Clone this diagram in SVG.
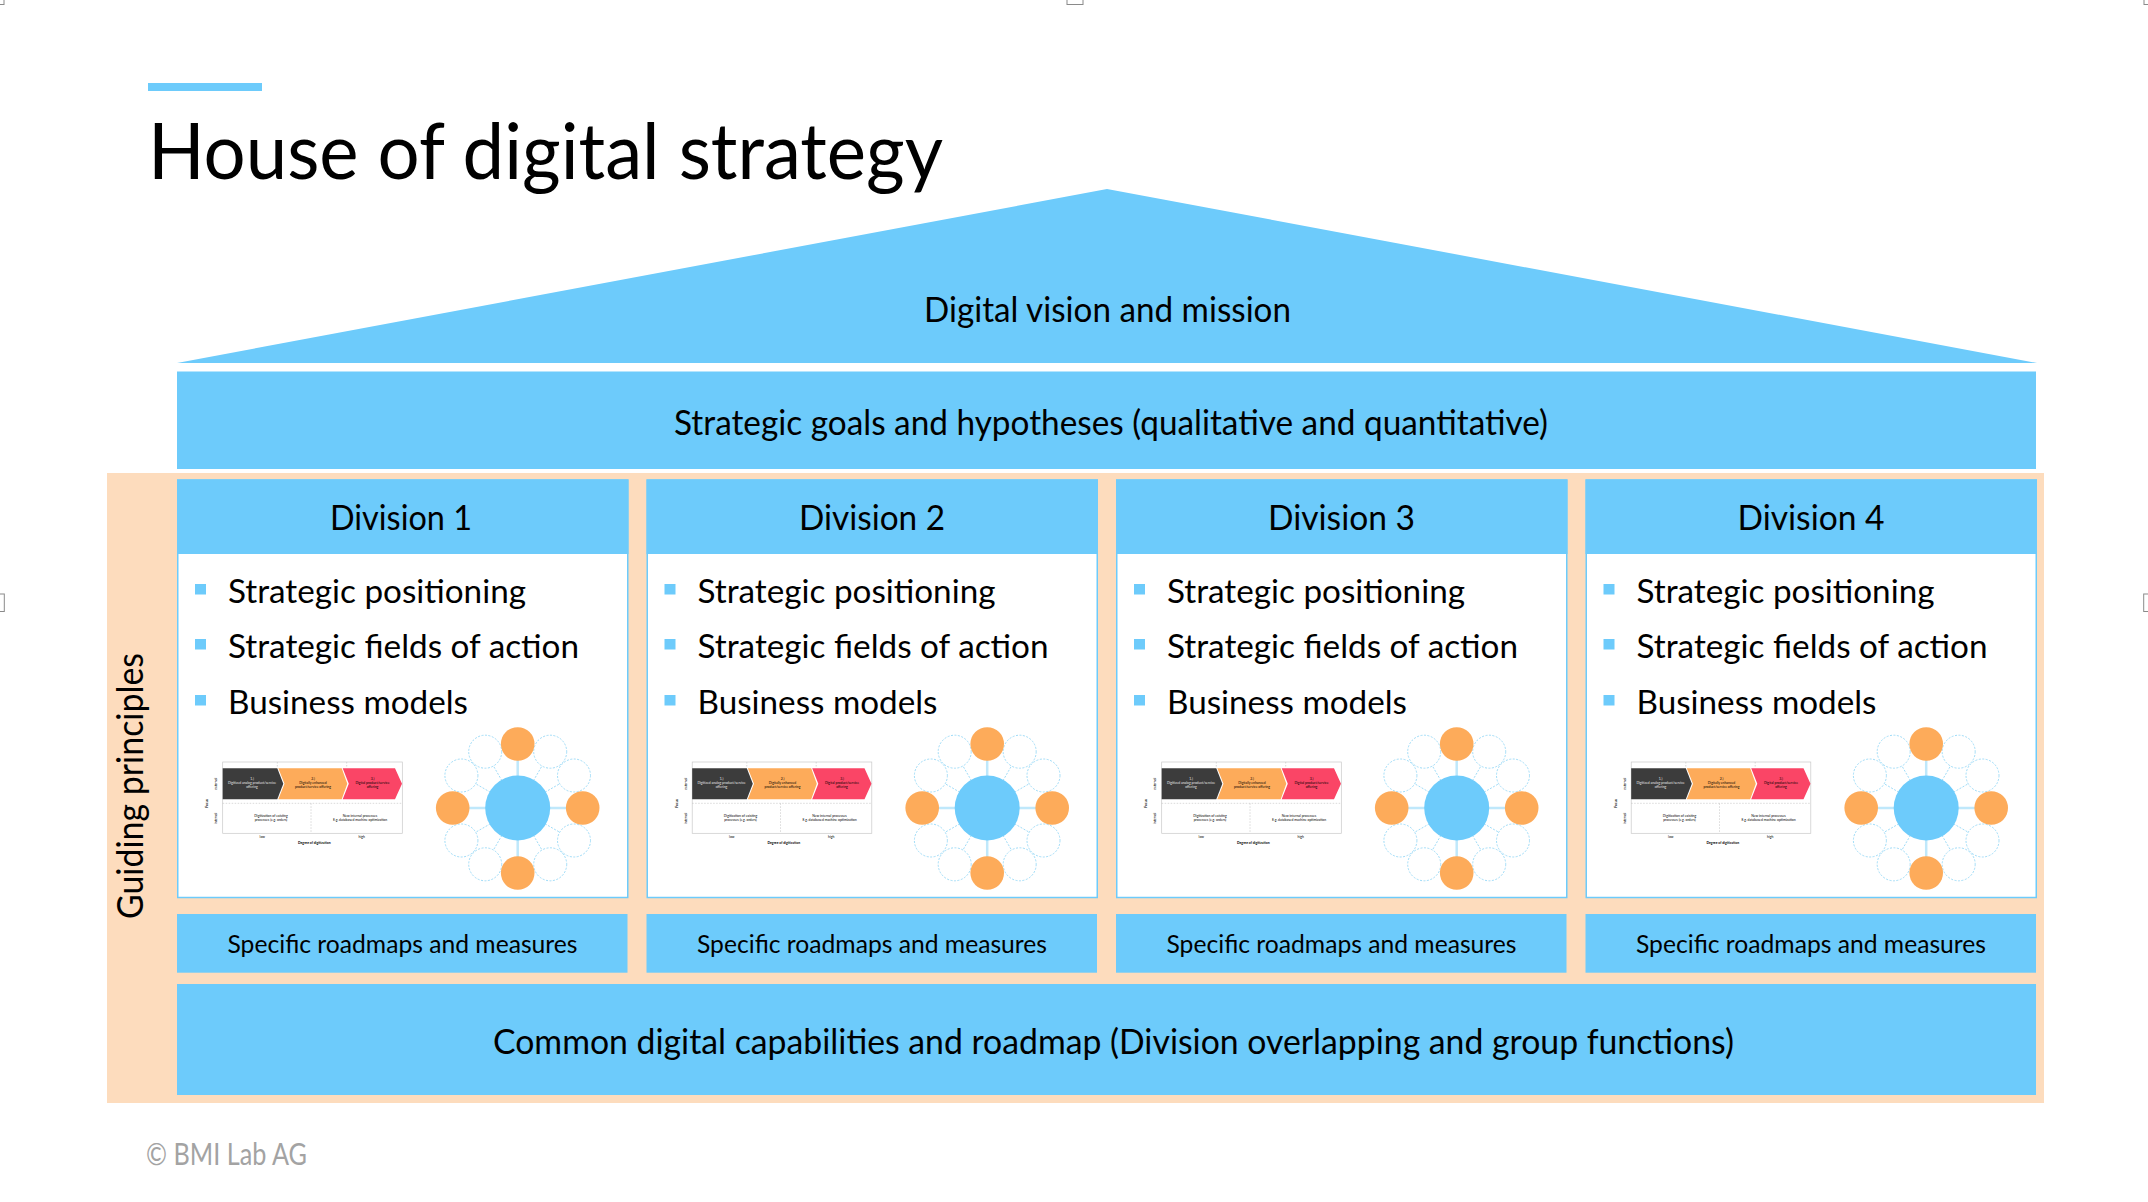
<svg xmlns="http://www.w3.org/2000/svg" xmlns:xlink="http://www.w3.org/1999/xlink" width="2148" height="1202" viewBox="0 0 2148 1202">
<style>
text{font-family:Lato,"Open Sans","Liberation Sans",sans-serif;fill:#000}
.blue{fill:#6dcbfb}
.mid{text-anchor:middle}
.hdr{font-size:34px}
.bul{font-size:33px}
.rm{font-size:25px}
.tiny{font-size:3.4px;text-anchor:middle}
.tinyw{font-size:3.4px;text-anchor:middle;fill:#e6e6e6}
.dash{fill:none;stroke:#bfbfbf;stroke-width:0.6;stroke-dasharray:1.5 1.5}
.wc{fill:#fff;stroke:#9fdcf8;stroke-width:1;stroke-dasharray:2 1.5}
.oc{fill:#fdab5a}
.sl{stroke:#bfe8fb;stroke-width:2.5}
.dl{stroke:#9fdcf8;stroke-width:1;stroke-dasharray:2 1.5}
.handle{fill:#fff;stroke:#8a8a8a;stroke-width:1}
</style>
<defs>
<g id="chart">
<rect x="45.7" y="762" width="179.6" height="71.3" fill="#fff" stroke="#c8c8c8" stroke-width="0.7"/>
<line class="dash" x1="100.3" y1="762" x2="100.3" y2="768"/>
<line class="dash" x1="169.7" y1="762" x2="169.7" y2="768"/>
<line class="dash" x1="45.7" y1="803.3" x2="225.3" y2="803.3"/>
<line class="dash" x1="134" y1="803.3" x2="134" y2="833"/>
<polygon points="45.7,768.3 100.3,768.3 106.3,783.8 100.3,799.3 45.7,799.3" fill="#3c3c3c"/>
<polygon points="101.3,768.3 164.7,768.3 170.3,783.8 164.7,799.3 101.3,799.3 107.5,783.8" fill="#fdab5a"/>
<polygon points="165.7,768.3 218,768.3 225,783.8 218,799.3 165.7,799.3 171.8,783.8" fill="#fa4566"/>
<text class="tinyw" x="75" y="779.5">1.)</text>
<text class="tinyw" x="75" y="783.5">Digitized analog product/service</text>
<text class="tinyw" x="75" y="787.5">offering</text>
<text class="tiny" x="136" y="779.5">2.)</text>
<text class="tiny" x="136" y="783.5">Digitally enhanced</text>
<text class="tiny" x="136" y="787.5">product/service offering</text>
<text class="tiny" x="195.5" y="779.5">3.)</text>
<text class="tiny" x="195.5" y="783.5">Digital product/service</text>
<text class="tiny" x="195.5" y="787.5">offering</text>
<text class="tiny" x="94" y="817">Digitization of existing</text>
<text class="tiny" x="94" y="821">processes (e.g. orders)</text>
<text class="tiny" x="183" y="817">New internal processes</text>
<text class="tiny" x="183" y="821">E.g. databased machine optimization</text>
<text class="tiny" x="85.3" y="838">low</text>
<text class="tiny" x="184.7" y="838">high</text>
<text class="tiny" x="137.3" y="844" font-weight="bold">Degree of digitization</text>
<text class="tiny" transform="translate(31,803.3) rotate(-90)" font-weight="bold">Focus</text>
<text class="tiny" transform="translate(40,783.8) rotate(-90)">external</text>
<text class="tiny" transform="translate(40,818.3) rotate(-90)">internal</text>
</g>
<g id="wheel">
<g class="dl">
<line x1="0" y1="0" x2="56.3" y2="-32.5"/>
<line x1="0" y1="0" x2="32.5" y2="-56.3"/>
<line x1="0" y1="0" x2="-32.5" y2="-56.3"/>
<line x1="0" y1="0" x2="-56.3" y2="-32.5"/>
<line x1="0" y1="0" x2="-56.3" y2="32.5"/>
<line x1="0" y1="0" x2="-32.5" y2="56.3"/>
<line x1="0" y1="0" x2="32.5" y2="56.3"/>
<line x1="0" y1="0" x2="56.3" y2="32.5"/>
</g>
<g class="sl">
<line x1="0" y1="0" x2="65" y2="0"/>
<line x1="0" y1="0" x2="-65" y2="0"/>
<line x1="0" y1="0" x2="0" y2="65"/>
<line x1="0" y1="0" x2="0" y2="-65"/>
</g>
<circle class="wc" cx="56.3" cy="-32.5" r="16.5"/>
<circle class="wc" cx="32.5" cy="-56.3" r="16.5"/>
<circle class="wc" cx="-32.5" cy="-56.3" r="16.5"/>
<circle class="wc" cx="-56.3" cy="-32.5" r="16.5"/>
<circle class="wc" cx="-56.3" cy="32.5" r="16.5"/>
<circle class="wc" cx="-32.5" cy="56.3" r="16.5"/>
<circle class="wc" cx="32.5" cy="56.3" r="16.5"/>
<circle class="wc" cx="56.3" cy="32.5" r="16.5"/>
<circle class="oc" cx="65" cy="0" r="16.8"/>
<circle class="oc" cx="-65" cy="0" r="16.8"/>
<circle class="oc" cx="0" cy="65" r="16.8"/>
<circle class="oc" cx="0" cy="-64" r="16.8"/>
<circle class="blue" cx="0" cy="0" r="32.5"/>
</g>
<g id="divbody">
<rect x="0.75" y="480" width="450" height="417.5" fill="#fff" stroke="#6dcbfb" stroke-width="1.5"/>
<rect class="blue" x="0" y="479.5" width="451.5" height="74.5"/>
<rect class="blue" x="18" y="584" width="11" height="10.5"/>
<rect class="blue" x="18" y="639" width="11" height="10.5"/>
<rect class="blue" x="18" y="695" width="11" height="10.5"/>
<text class="bul" x="51" y="602.5" textLength="298" lengthAdjust="spacingAndGlyphs">Strategic positioning</text>
<text class="bul" x="51" y="657.5" textLength="351" lengthAdjust="spacingAndGlyphs">Strategic fields of action</text>
<text class="bul" x="51" y="713.5" textLength="240" lengthAdjust="spacingAndGlyphs">Business models</text>
<use xlink:href="#chart"/>
<use xlink:href="#wheel" transform="translate(340.7,808)"/>
<rect class="blue" x="0" y="914" width="450.5" height="58.7"/>
<text class="rm mid" x="225.5" y="952.7" textLength="350" lengthAdjust="spacingAndGlyphs">Specific roadmaps and measures</text>
</g>
</defs>

<rect width="2148" height="1202" fill="#fff"/>

<g id="handles">
<rect class="handle" x="-4" y="-4" width="8" height="8.5"/>
<rect class="handle" x="1067" y="-4" width="16" height="8.5"/>
<rect class="handle" x="2144" y="-4" width="8" height="8.5"/>
<rect class="handle" x="-4" y="594" width="8.3" height="17.5"/>
<rect class="handle" x="2143.7" y="594" width="8.3" height="17.5"/>
</g>

<g id="title">
<rect class="blue" x="148" y="83" width="114" height="8"/>
<text x="148" y="179" font-size="78" textLength="795" lengthAdjust="spacingAndGlyphs">House of digital strategy</text>
</g>

<g id="guiding-principles">
<rect x="107" y="473" width="1937" height="630" fill="#fddcbd"/>
<text class="mid" transform="translate(143,786) rotate(-90)" font-size="36" textLength="266" lengthAdjust="spacingAndGlyphs">Guiding principles</text>
</g>

<g id="roof">
<polygon class="blue" points="177,363 1107,189 2037,363"/>
<text class="mid" x="1107.5" y="321.7" font-size="34" textLength="367" lengthAdjust="spacingAndGlyphs">Digital vision and mission</text>
</g>

<g id="goals">
<rect class="blue" x="177" y="371.5" width="1859" height="97.5"/>
<text class="mid" x="1111" y="435" font-size="34" textLength="874" lengthAdjust="spacingAndGlyphs">Strategic goals and hypotheses (qualitative and quantitative)</text>
</g>

<g id="division-1" transform="translate(177,0)">
<use xlink:href="#divbody"/>
<text class="hdr mid" x="224" y="530" textLength="142" lengthAdjust="spacingAndGlyphs">Division 1</text>
</g>
<g id="division-2" transform="translate(646.5,0)">
<use xlink:href="#divbody"/>
<text class="hdr mid" x="225.5" y="530" textLength="146" lengthAdjust="spacingAndGlyphs">Division 2</text>
</g>
<g id="division-3" transform="translate(1116,0)">
<use xlink:href="#divbody"/>
<text class="hdr mid" x="225.5" y="530" textLength="147" lengthAdjust="spacingAndGlyphs">Division 3</text>
</g>
<g id="division-4" transform="translate(1585.5,0)">
<use xlink:href="#divbody"/>
<text class="hdr mid" x="225.5" y="530" textLength="147" lengthAdjust="spacingAndGlyphs">Division 4</text>
</g>

<g id="common">
<rect class="blue" x="177" y="984" width="1859" height="111"/>
<text class="mid" x="1113.5" y="1054" font-size="35" textLength="1241" lengthAdjust="spacingAndGlyphs">Common digital capabilities and roadmap (Division overlapping and group functions)</text>
</g>

<g id="copyright">
<text x="146" y="1165" font-size="30" style="fill:#a3a3a3" textLength="161" lengthAdjust="spacingAndGlyphs">© BMI Lab AG</text>
</g>

<g id="connectors"/>
</svg>
